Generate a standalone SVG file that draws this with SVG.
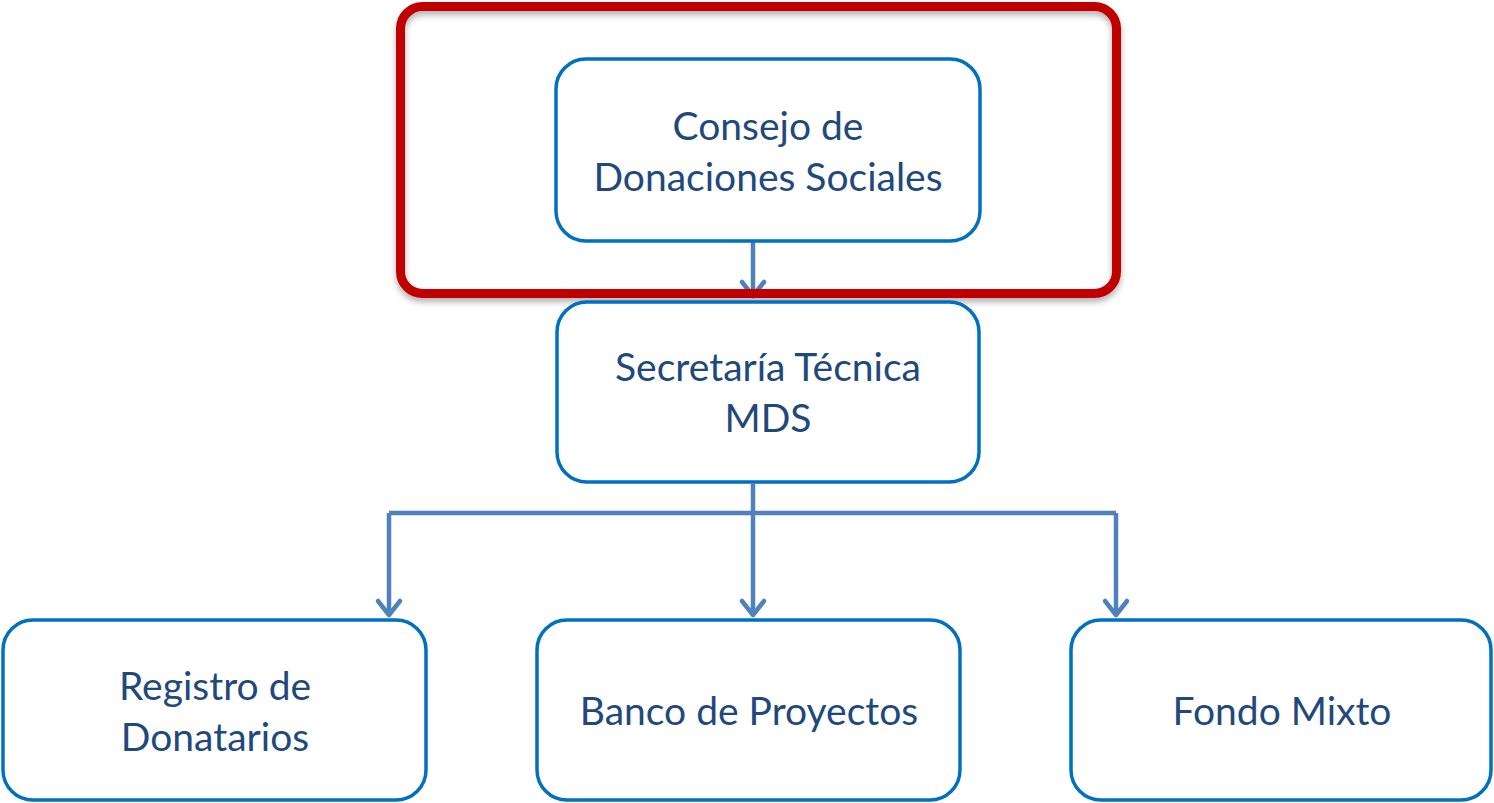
<svg xmlns="http://www.w3.org/2000/svg" width="1494" height="803" viewBox="0 0 1494 803">
<style>
.box{fill:#fff;stroke:#0070C0;stroke-width:3.5}
.lbl{font-family:Lato,"Open Sans","Liberation Sans",sans-serif;font-size:39px;fill:#1F497D;text-anchor:middle}
.con{fill:none;stroke:#4F81BD;stroke-width:4.5}
</style>
<defs>
<marker id="arr" markerUnits="userSpaceOnUse" markerWidth="30" markerHeight="30" refX="0" refY="0" orient="auto" overflow="visible">
<path d="M-14,-11 L0,0 L-14,11" fill="none" stroke="#4F81BD" stroke-width="4.5" stroke-linecap="round" stroke-linejoin="round"/>
</marker>
<filter id="sh" x="-5%" y="-5%" width="110%" height="115%">
<feDropShadow dx="0" dy="4" stdDeviation="3" flood-color="#000" flood-opacity="0.3"/>
</filter>
</defs>
<rect width="1494" height="803" fill="#fff"/>
<g id="connectors">
<path class="con" d="M753,242 L753,296" marker-end="url(#arr)"/>
<path class="con" d="M753,484 L753,513"/>
<path class="con" d="M389,513 L1116,513"/>
<path class="con" d="M389,513 L389,615" marker-end="url(#arr)"/>
<path class="con" d="M753,513 L753,615" marker-end="url(#arr)"/>
<path class="con" d="M1116,513 L1116,615" marker-end="url(#arr)"/>
</g>
<g id="frame">
<rect x="400.5" y="6.5" width="716" height="287" rx="22" fill="none" stroke="#C00000" stroke-width="9" filter="url(#sh)"/>
</g>
<g id="consejo">
<rect class="box" x="556" y="59" width="424" height="182" rx="30"/>
<text class="lbl" x="768" y="140">Consejo de</text>
<text class="lbl" x="768" y="191">Donaciones Sociales</text>
</g>
<g id="secretaria">
<rect class="box" x="557" y="302" width="422" height="180" rx="30"/>
<text class="lbl" x="768" y="381">Secretaría Técnica</text>
<text class="lbl" x="768" y="432">MDS</text>
</g>
<g id="registro">
<rect class="box" x="3" y="620" width="423" height="180" rx="30"/>
<text class="lbl" x="215" y="700">Registro de</text>
<text class="lbl" x="215" y="751">Donatarios</text>
</g>
<g id="banco">
<rect class="box" x="537" y="620" width="423" height="180" rx="30"/>
<text class="lbl" x="749" y="725">Banco de Proyectos</text>
</g>
<g id="fondo">
<rect class="box" x="1071" y="620" width="420" height="180" rx="30"/>
<text class="lbl" x="1282" y="725">Fondo Mixto</text>
</g>
</svg>
